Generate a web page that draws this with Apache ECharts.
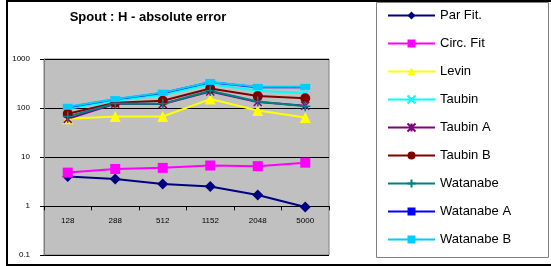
<!DOCTYPE html>
<html><head><meta charset="utf-8">
<script src="https://cdn.jsdelivr.net/npm/echarts@6/dist/echarts.min.js"></script>
<style>html,body{margin:0;padding:0;background:#fff}#c{width:551px;height:266px}</style>
</head><body><div id="c"></div>
<script>
const categories = ['128','288','512','1152','2048','5000'];
const yTicks = [0.1, 1, 10, 100, 1000];
const parFit   = [4.0, 3.56, 2.8, 2.5, 1.68, 0.95];
const circFit  = [4.8, 5.7, 6.0, 6.7, 6.5, 7.65];
const levin    = [60, 67, 67, 152, 89, 64];
const taubin   = [96, 140, 185, 305, 225, 200];
const taubinA  = [60, 122, 120, 218, 133, 111];
const taubinB  = [76, 128, 140, 250, 175, 158];
const watanabe = [67, 124, 122, 225, 136, 109];
const watanabeA= [104, 150, 202, 335, 265, 265];
const watanabeB= [106, 152, 206, 340, 270, 270];
const title = 'Spout : H - absolute error';

const X = 'path://M0,0L10,10M10,0L0,10';
const AST = 'path://M0,0L10,10M10,0L0,10M5,0L5,10';
const PLUS = 'path://M5,0L5,10M0,5L10,5';
function s(name, data, color, symbol, size, stroke){
  return {name, type:'line', data, symbol, symbolSize:size, showSymbol:true,
    lineStyle:{color, width:2}, itemStyle:{color, borderColor:color, borderWidth: stroke?1.5:0},
    emphasis:{disabled:true}, animation:false, z: 2};
}
const series = [
  s('Par Fit.', parFit, '#000080', 'diamond', 11),
  s('Circ. Fit', circFit, '#FF00FF', 'rect', 10),
  s('Levin', levin, '#FFFF00', 'triangle', 11),
  s('Taubin', taubin, '#00FFFF', X, 8, true),
  s('Taubin A', taubinA, '#800080', AST, 8, true),
  s('Taubin B', taubinB, '#800000', 'circle', 10),
  s('Watanabe', watanabe, '#008080', PLUS, 10, true),
  s('Watanabe A', watanabeA, '#0000FF', 'rect', [8,4]),
  s('Watanabe B', watanabeB, '#00CCFF', 'rect', [10,6])
];
const font = 'Liberation Sans, Arial, sans-serif';
const chart = echarts.init(document.getElementById('c'));
chart.setOption({
  animation:false,
  title:{text:title, left:143, textAlign:'center', top:6,
    textStyle:{fontSize:13, fontWeight:'bold', fontFamily:font, color:'#000'}},
  grid:[
    {left:44, top:59, width:285, height:196, show:true, backgroundColor:'#C0C0C0', borderColor:'#808080', borderWidth:1},
    {left:44, top:59, width:285, height:147.3, show:false}
  ],
  xAxis:[
    {type:'category', data:categories, gridIndex:0, boundaryGap:true,
     axisLine:{show:false}, axisTick:{show:false}, axisLabel:{show:false}, splitLine:{show:false}},
    {type:'category', data:categories, gridIndex:1, boundaryGap:true, position:'bottom',
     axisLine:{show:true, lineStyle:{color:'#000', width:1}},
     axisTick:{show:true, length:4, inside:false, lineStyle:{color:'#000'}},
     axisLabel:{fontSize:8, fontFamily:font, color:'#000', margin:10}, splitLine:{show:false}}
  ],
  yAxis:[
    {type:'log', logBase:10, min:0.1, max:1000, gridIndex:0,
     axisLine:{show:true, lineStyle:{color:'#808080'}},
     axisTick:{show:true, length:4, lineStyle:{color:'#000'}},
     axisLabel:{fontSize:8, fontFamily:font, color:'#000', margin:14,
       formatter:v=>{const t=yTicks.find(x=>Math.abs(x-v)/x<1e-6);return t===undefined?'':String(t);}},
     splitLine:{show:true, lineStyle:{color:'#000', width:1}}},
    {type:'value', gridIndex:1, show:false}
  ],
  legend:{orient:'vertical', left:387, top:9, padding:0, itemWidth:47, itemHeight:10, itemGap:15,
    textStyle:{fontSize:13, lineHeight:12, fontFamily:font, color:'#000'}, selectedMode:false,
    data:series.map(x=>x.name)},
  graphic:[
    {type:'rect', shape:{x:376.5, y:2.5, width:172, height:255}, style:{fill:'none', stroke:'#808080', lineWidth:1}, z:-1},
    {type:'rect', shape:{x:7, y:1, width:550, height:264}, style:{fill:'none', stroke:'#000', lineWidth:2}, z:-1}
  ],
  series: series.map(x=>Object.assign(x,{xAxisIndex:0,yAxisIndex:0}))
});
</script></body></html>
